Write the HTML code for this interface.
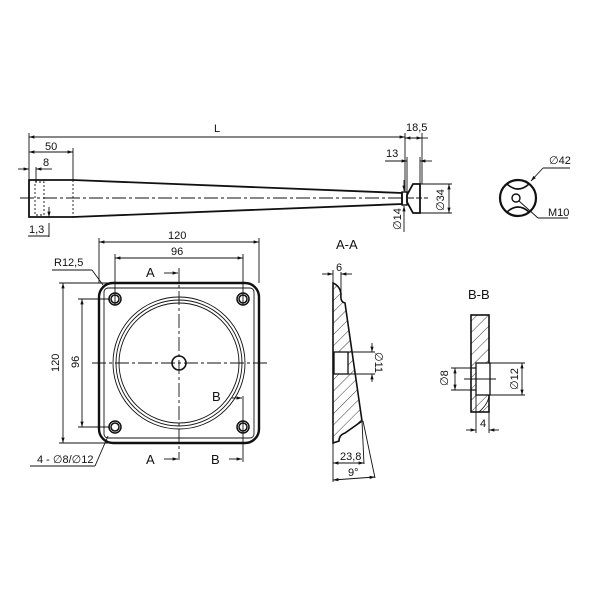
<!DOCTYPE html>
<html><head><style>body{margin:0;background:#fff}svg{display:block}text{font-family:"Liberation Sans",sans-serif;fill:#111}</style></head>
<body>
<svg width="600" height="600" viewBox="0 0 600 600" xmlns="http://www.w3.org/2000/svg">
<defs>
<marker id="a" viewBox="0 0 10 10" refX="10" refY="5" markerWidth="6" markerHeight="6" orient="auto-start-reverse"><path d="M0,2L10,5L0,8z" fill="#111"/></marker>
<pattern id="h" width="8" height="8" patternUnits="userSpaceOnUse" patternTransform="rotate(45)"><line x1="0" y1="0" x2="0" y2="8" stroke="#222" stroke-width="0.9"/></pattern>
</defs>
<g stroke="#111" fill="none" stroke-width="0.9">
<!-- leg -->
<path d="M29,180 L29,217 L73,217 L402,204 L402,193 L73,180 Z" stroke-width="1.8"/>
<line x1="73" y1="180" x2="73" y2="217" stroke-dasharray="2,2"/>
<rect x="35" y="182" width="9" height="33" stroke-dasharray="2,2"/>
<line x1="20" y1="198" x2="405" y2="198" stroke-dasharray="14,3,3,3"/>
<rect x="402" y="192" width="5" height="13" stroke-width="1.4"/>
<path d="M407,195 L413,184 L420,184 L420,213 L413,213 L407,202 Z" stroke-width="1.8"/>
<line x1="408" y1="198" x2="428" y2="198" stroke-dasharray="6,2"/>
<!-- dims leg -->
<line x1="29" y1="137" x2="405" y2="137" marker-start="url(#a)" marker-end="url(#a)"/>
<line x1="29" y1="133" x2="29" y2="180"/><line x1="405" y1="133" x2="405" y2="192"/>
<line x1="29" y1="152" x2="73" y2="152" marker-start="url(#a)" marker-end="url(#a)"/>
<line x1="73" y1="148" x2="73" y2="180"/>
<line x1="18" y1="169" x2="29" y2="169" marker-end="url(#a)"/><line x1="36" y1="169" x2="52" y2="169" marker-start="url(#a)"/>
<line x1="36" y1="167" x2="36" y2="182"/>
<line x1="49" y1="207" x2="49" y2="217" marker-end="url(#a)"/><line x1="49" y1="223" x2="49" y2="237"/><line x1="28" y1="236" x2="49" y2="236"/>
<line x1="405" y1="138" x2="422" y2="138" marker-start="url(#a)" marker-end="url(#a)"/><line x1="422" y1="133" x2="422" y2="184"/><line x1="422" y1="138" x2="428" y2="138"/>
<line x1="385" y1="161" x2="407" y2="161" marker-end="url(#a)"/><line x1="420" y1="161" x2="432" y2="161" marker-start="url(#a)"/>
<line x1="407" y1="157" x2="407" y2="194"/><line x1="420" y1="157" x2="420" y2="184"/>
<line x1="404" y1="180" x2="404" y2="191" marker-end="url(#a)"/><line x1="404" y1="206" x2="404" y2="232" marker-start="url(#a)"/>
<line x1="420" y1="184" x2="452" y2="184"/><line x1="420" y1="213" x2="452" y2="213"/>
<line x1="449" y1="184" x2="449" y2="213" marker-start="url(#a)" marker-end="url(#a)"/>
<!-- end view -->
<circle cx="518" cy="198" r="18" stroke-width="2.2"/>
<path d="M507,184 Q518,194 529,184" stroke-width="1.6"/><path d="M507,212 Q518,202 529,212" stroke-width="1.6"/>
<circle cx="516" cy="198" r="4" stroke-width="1.4"/>
<line x1="531" y1="181" x2="543" y2="168" marker-start="url(#a)"/><line x1="543" y1="168" x2="570" y2="168"/>
<line x1="519" y1="201" x2="538" y2="218"/><line x1="538" y1="218" x2="568" y2="218"/>
<!-- plate -->
<rect x="99" y="283" width="160" height="160" rx="14" stroke-width="2.4"/>
<rect x="104" y="288" width="150" height="150" rx="4"/>
<circle cx="179" cy="363" r="66"/><circle cx="179" cy="363" r="63"/><circle cx="179" cy="363" r="60"/>
<circle cx="179" cy="363" r="7" stroke-width="1.6"/>
<g stroke-width="1.5"><circle cx="115" cy="299" r="6"/><circle cx="115" cy="299" r="4"/><circle cx="243" cy="299" r="6"/><circle cx="243" cy="299" r="4"/><circle cx="115" cy="427" r="6"/><circle cx="115" cy="427" r="4"/><circle cx="243" cy="427" r="6"/><circle cx="243" cy="427" r="4"/></g>
<line x1="92" y1="363" x2="268" y2="363" stroke-dasharray="14,3,3,3"/>
<line x1="179" y1="268" x2="179" y2="460" stroke-dasharray="14,3,3,3"/>
<line x1="99" y1="242" x2="259" y2="242" marker-start="url(#a)" marker-end="url(#a)"/>
<line x1="99" y1="238" x2="99" y2="283"/><line x1="259" y1="238" x2="259" y2="283"/>
<line x1="115" y1="258" x2="243" y2="258" marker-start="url(#a)" marker-end="url(#a)"/>
<line x1="115" y1="254" x2="115" y2="305"/><line x1="243" y1="254" x2="243" y2="305"/>
<line x1="63" y1="283" x2="63" y2="443" marker-start="url(#a)" marker-end="url(#a)"/>
<line x1="59" y1="283" x2="110" y2="283"/><line x1="59" y1="443" x2="110" y2="443"/>
<line x1="82" y1="299" x2="82" y2="427" marker-start="url(#a)" marker-end="url(#a)"/>
<line x1="78" y1="299" x2="110" y2="299"/><line x1="78" y1="427" x2="110" y2="427"/>
<line x1="52" y1="270" x2="92" y2="270"/><line x1="92" y1="270" x2="103" y2="285"/>
<line x1="30" y1="466" x2="95" y2="466"/><line x1="95" y1="466" x2="108" y2="436"/>
<line x1="164" y1="273" x2="178" y2="273" marker-end="url(#a)"/><line x1="164" y1="459" x2="178" y2="459" marker-end="url(#a)"/>
<line x1="229" y1="459" x2="242" y2="459" marker-end="url(#a)"/><line x1="232" y1="398" x2="242" y2="398" marker-end="url(#a)"/>
<line x1="243" y1="396" x2="243" y2="462"/>
<!-- A-A -->
<path d="M333,283 L333,443 L339,441 Q339,435 345,433 L362,421 L345,303 Q340,302 341,294 Q340,286 333,283 Z" fill="url(#h)" stroke-width="1.6"/>
<rect x="334" y="352" width="14" height="22" fill="#fff" stroke-width="1.3"/>
<line x1="348" y1="352" x2="375" y2="352"/><line x1="348" y1="374" x2="375" y2="374"/>
<line x1="372" y1="343" x2="372" y2="352" marker-end="url(#a)"/><line x1="372" y1="374" x2="372" y2="382" marker-start="url(#a)"/>
<line x1="322" y1="274" x2="333" y2="274" marker-end="url(#a)"/><line x1="341" y1="274" x2="352" y2="274" marker-start="url(#a)"/>
<line x1="341" y1="272" x2="341" y2="294"/><line x1="333" y1="270" x2="333" y2="283"/>
<line x1="333" y1="443" x2="333" y2="482"/>
<line x1="362" y1="421" x2="364" y2="464"/><line x1="363" y1="421" x2="375" y2="478"/>
<line x1="333" y1="463" x2="364" y2="463" marker-start="url(#a)" marker-end="url(#a)"/>
<line x1="333" y1="480" x2="375" y2="477" marker-start="url(#a)" marker-end="url(#a)"/>
<!-- B-B -->
<rect x="471" y="315" width="18" height="97" fill="url(#h)" stroke-width="1.6"/>
<path d="M489,396 Q488,404 479,412" />
<rect x="476" y="363" width="14" height="32" fill="#fff" stroke-width="1.3"/>
<line x1="471" y1="368" x2="476" y2="368" stroke-width="1.2"/><line x1="471" y1="390" x2="476" y2="390" stroke-width="1.2"/>
<line x1="451" y1="368" x2="471" y2="368"/><line x1="451" y1="390" x2="471" y2="390"/>
<line x1="455" y1="368" x2="455" y2="390" marker-start="url(#a)" marker-end="url(#a)"/>
<line x1="490" y1="363" x2="525" y2="363"/><line x1="490" y1="395" x2="525" y2="395"/>
<line x1="522" y1="363" x2="522" y2="395" marker-start="url(#a)" marker-end="url(#a)"/>
<line x1="464" y1="379" x2="496" y2="379"/>
<line x1="476" y1="395" x2="476" y2="433"/><line x1="489" y1="412" x2="489" y2="433"/>
<line x1="466" y1="430" x2="476" y2="430" marker-end="url(#a)"/><line x1="489" y1="430" x2="499" y2="430" marker-start="url(#a)"/>
</g>
<g font-size="11">
<text x="214" y="132">L</text><text x="45" y="150">50</text><text x="43" y="166">8</text><text x="29" y="233">1,3</text>
<text x="406" y="131">18,5</text><text x="386" y="157">13</text>
<text transform="translate(401,230) rotate(-90)">∅14</text><text transform="translate(444,211) rotate(-90)">∅34</text>
<text x="549" y="164">∅42</text><text x="548" y="216">M10</text>
<text x="168" y="239">120</text><text x="171" y="255">96</text>
<text transform="translate(59,372) rotate(-90)">120</text><text transform="translate(79,368) rotate(-90)">96</text>
<text x="54" y="266">R12,5</text><text x="37" y="463">4 - ∅8/∅12</text>
<text x="146" y="277" font-size="13">A</text><text x="146" y="464" font-size="13">A</text>
<text x="212" y="401" font-size="13">B</text><text x="211" y="464" font-size="13">B</text>
<text x="336" y="249" font-size="13">A-A</text><text x="468" y="299" font-size="13">B-B</text>
<text x="336" y="271">6</text><text transform="translate(375,352) rotate(90)">∅11</text>
<text x="340" y="460">23,8</text><text x="348" y="476">9°</text>
<text transform="translate(448,386) rotate(-90)">∅8</text><text transform="translate(518,390) rotate(-90)">∅12</text>
<text x="480" y="427">4</text>
</g>
</svg>
</body></html>
